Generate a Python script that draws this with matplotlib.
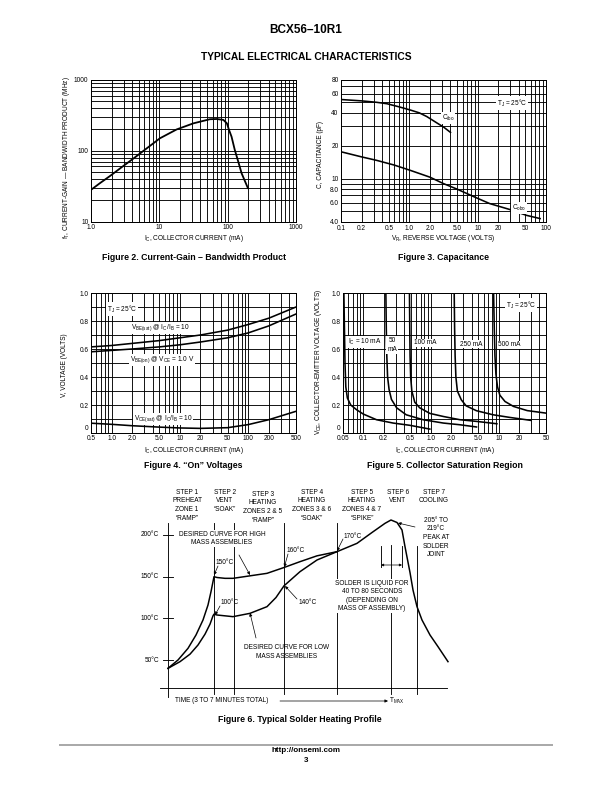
import matplotlib
matplotlib.use('Agg')
import matplotlib.pyplot as plt
from matplotlib import font_manager
from matplotlib.ticker import FixedLocator, FixedFormatter, NullFormatter
from matplotlib.lines import Line2D

# ---------------- data ----------------
# Figure 2: fT vs IC
fig2_ic = [1.0, 1.35, 1.9, 2.81, 4.2, 6.53, 10.2, 17.9, 31.5, 55, 69, 86.5, 97.4, 104.7, 114, 127, 143, 160, 180, 200]
fig2_ft = [28, 34.8, 44, 58.5, 78, 108, 150, 200, 244, 279, 281, 273, 244, 197, 158, 103, 70, 48, 36.7, 28.9]

# Figure 3: capacitance vs VR
cibo_v = [0.1, 0.2, 0.33, 0.47, 0.7, 1.03, 1.4, 1.8, 2.5, 3.2, 4.0]
cibo_c = [53, 51.5, 50, 48.5, 45.5, 42.5, 40, 37, 32.5, 29.5, 26.5]
cobo_v = [0.1, 0.2, 0.33, 0.6, 1.03, 2.0, 3.15, 5.0, 9.7, 15, 30, 52, 82]
cobo_c = [17.6, 15.8, 14.7, 13.3, 11.9, 10.3, 9.0, 8.0, 6.64, 5.9, 5.19, 4.6, 4.3]

# Figure 4: "On" voltages
f4_ic = [0.5, 1, 2, 5, 10, 20, 50, 100, 200, 500]
vbe_sat = [0.615, 0.625, 0.64, 0.66, 0.68, 0.70, 0.735, 0.775, 0.82, 0.90]
vbe_on = [0.58, 0.59, 0.60, 0.615, 0.63, 0.65, 0.68, 0.715, 0.765, 0.85]
vce_sat = [0.07, 0.062, 0.052, 0.042, 0.036, 0.033, 0.038, 0.06, 0.095, 0.155]

# Figure 5: collector saturation region (IB in mA, VCE in V)
sat_curves = {
    '10 mA': ([0.0515, 0.0525, 0.0535, 0.055, 0.058, 0.065, 0.08, 0.10, 0.156, 0.275, 0.485, 0.96],
              [1.0, 0.75, 0.5, 0.33, 0.25, 0.2, 0.165, 0.135, 0.095, 0.071, 0.055, 0.028]),
    '50 mA': ([0.215, 0.218, 0.222, 0.228, 0.24, 0.26, 0.31, 0.43, 0.76, 1.52, 2.66, 4.7],
              [1.0, 0.75, 0.55, 0.40, 0.31, 0.24, 0.18, 0.13, 0.095, 0.071, 0.059, 0.043]),
    '100 mA': ([0.48, 0.485, 0.49, 0.50, 0.52, 0.575, 0.68, 0.96, 1.52, 2.66, 4.7, 9.4],
               [1.0, 0.75, 0.55, 0.40, 0.30, 0.22, 0.18, 0.14, 0.118, 0.095, 0.083, 0.066]),
    '250 mA': ([2.2, 2.23, 2.27, 2.33, 2.45, 2.8, 3.3, 4.7, 8.3, 14.7, 30],
               [1.0, 0.75, 0.55, 0.40, 0.30, 0.237, 0.194, 0.159, 0.13, 0.111, 0.09]),
    '500 mA': ([8.4, 8.6, 8.8, 9.1, 9.6, 10.4, 12.4, 16.5, 26.4, 50],
               [1.0, 0.75, 0.55, 0.42, 0.33, 0.27, 0.225, 0.19, 0.16, 0.142]),
}

# Figure 6: solder heating profile (time in arbitrary units, temperature in degC)
high_t = [0, 10, 20, 28, 35, 40, 43, 45, 46, 49, 57, 65, 82, 99, 116, 132, 149, 169, 189, 204, 217, 223, 229, 234, 237, 242, 245, 249, 254, 262, 270, 280]
high_T = [40, 50, 64, 80, 98, 116, 132, 144, 150, 149, 148, 148, 151, 154, 161, 168, 175, 180, 190, 203, 214, 218, 215, 206, 186, 155, 134, 114, 98, 80, 66, 48]
low_t = [0, 12, 22, 30, 37, 42, 45, 46, 49, 57, 65, 82, 99, 108, 116, 132, 149, 169]
low_T = [40, 48, 57, 68, 81, 93, 103, 105, 104, 103, 102, 106, 114, 125, 139, 156, 170, 180]
step_bounds = [46, 66, 116, 169, 223, 249]
step_tops = [214.6, 214.6, 214.6, 214.6, 188, 187]
liquid_window = [213, 234]
temp_ticks = [50, 100, 150, 200]

# ---------------- fonts ----------------
names = {f.name for f in font_manager.fontManager.ttflist}
NARROW = 'Liberation Sans Narrow' if 'Liberation Sans Narrow' in names else 'Liberation Sans'
BOLD = 'Liberation Sans'
plt.rcParams['font.family'] = [NARROW, 'DejaVu Sans']
plt.rcParams['mathtext.fontset'] = 'custom'
plt.rcParams['mathtext.rm'] = NARROW
plt.rcParams['mathtext.it'] = NARROW + ':italic'
plt.rcParams['mathtext.bf'] = NARROW + ':bold'

W, H = 612, 792
fig = plt.figure(figsize=(W / 72, H / 72), dpi=72)


def rect(l, t, r, b):
    return [l / W, 1 - b / H, (r - l) / W, (b - t) / H]


def ftext(x, y, s, **kw):
    kw.setdefault('ha', 'center')
    kw.setdefault('va', 'center')
    kw.setdefault('fontsize', 6.5)
    return fig.text(x / W, 1 - y / H, s, **kw)


WBOX = dict(facecolor='white', edgecolor='none', pad=1.0)
FS = 6.5


def setup(ax, xmaj, xlab, xmin, ymaj, ylab, ymin):
    ax.xaxis.set_major_locator(FixedLocator(xmaj))
    ax.xaxis.set_major_formatter(FixedFormatter(xlab))
    ax.xaxis.set_minor_locator(FixedLocator(xmin))
    ax.xaxis.set_minor_formatter(NullFormatter())
    ax.yaxis.set_major_locator(FixedLocator(ymaj))
    ax.yaxis.set_major_formatter(FixedFormatter(ylab))
    ax.yaxis.set_minor_locator(FixedLocator(ymin))
    ax.yaxis.set_minor_formatter(NullFormatter())
    ax.grid(which='both', color='black', lw=0.9)
    ax.tick_params(which='both', length=0, labelsize=FS, pad=2.5)
    for s in ax.spines.values():
        s.set_linewidth(1.0)


# ---------------- page header / footer ----------------
ftext(306, 30, 'BCX56–10R1', fontsize=11.8, fontweight='bold', family=BOLD)
ftext(306, 57, 'TYPICAL ELECTRICAL CHARACTERISTICS', fontsize=10.3, fontweight='bold', family=BOLD)
fig.add_artist(Line2D([60 / W, 552 / W], [1 - 745 / H, 1 - 745 / H], color='#aaaaaa', lw=2))
ftext(306, 751, 'http://onsemi.com', fontsize=8, fontweight='bold', family=BOLD)
ftext(306, 760.5, '3', fontsize=8, fontweight='bold', family=BOLD)

# ---------------- Figure 2 ----------------
ax2 = fig.add_axes(rect(91, 80, 296, 221.5))
ax2.set_xscale('log'); ax2.set_yscale('log')
ax2.set_xlim(1, 1000); ax2.set_ylim(10, 1000)
setup(ax2, [1, 10, 100, 1000], ['1.0', '10', '100', '1000'],
      [m * d for d in (1, 10, 100) for m in range(2, 10)],
      [10, 100, 1000], ['10', '100', '1000'],
      [m * d for d in (10, 100) for m in range(2, 10)])
ax2.plot(fig2_ic, fig2_ft, color='black', lw=1.8, solid_capstyle='butt')
ftext(67, 158, r'f$_{\rm T}$, CURRENT-GAIN — BANDWIDTH PRODUCT (MHz)', rotation=90)
ftext(193.5, 239, r'I$_{\rm C}$, COLLECTOR CURRENT (mA)')
ftext(193.5, 257, 'Figure 2. Current-Gain – Bandwidth Product', fontsize=8.8, fontweight='bold', family=BOLD)

# ---------------- Figure 3 ----------------
ax3 = fig.add_axes(rect(341, 80, 546, 222))
ax3.set_xscale('log'); ax3.set_yscale('log')
ax3.set_xlim(0.1, 100); ax3.set_ylim(4, 80)
setup(ax3, [0.1, 0.2, 0.5, 1, 2, 5, 10, 20, 50, 100],
      ['0.1', '0.2', '0.5', '1.0', '2.0', '5.0', '10', '20', '50', '100'],
      [0.3, 0.4, 0.6, 0.7, 0.8, 0.9, 3, 4, 6, 7, 8, 9, 30, 40, 60, 70, 80, 90],
      [4, 6, 8, 10, 20, 40, 60, 80], ['4.0', '6.0', '8.0', '10', '20', '40', '60', '80'],
      [5, 7, 9, 30, 50, 70])
ax3.plot(cibo_v, cibo_c, color='black', lw=1.6)
ax3.plot(cobo_v, cobo_c, color='black', lw=1.6)
ftext(512, 103, r'T$_{\rm J}$ = 25°C', bbox=WBOX)
ftext(448, 118, r'C$_{\rm ibo}$', bbox=WBOX)
ftext(519, 208, r'C$_{\rm obo}$', bbox=WBOX)
ftext(321, 155, 'C, CAPACITANCE (pF)', rotation=90)
ftext(443.5, 239, r'V$_{\rm R}$, REVERSE VOLTAGE (VOLTS)')
ftext(443.5, 257, 'Figure 3. Capacitance', fontsize=8.8, fontweight='bold', family=BOLD)

# ---------------- Figure 4 ----------------
ax4 = fig.add_axes(rect(91, 293, 296, 433))
ax4.set_xscale('log')
ax4.set_xlim(0.5, 500); ax4.set_ylim(0, 1.0)
setup(ax4, [0.5, 1, 2, 5, 10, 20, 50, 100, 200, 500],
      ['0.5', '1.0', '2.0', '5.0', '10', '20', '50', '100', '200', '500'],
      [0.6, 0.7, 0.8, 0.9, 3, 4, 6, 7, 8, 9, 30, 40, 60, 70, 80, 90, 300, 400],
      [0.2, 0.4, 0.6, 0.8, 1.0], ['0.2', '0.4', '0.6', '0.8', '1.0'],
      [0.1, 0.3, 0.5, 0.7, 0.9])
for v in (vbe_sat, vbe_on, vce_sat):
    ax4.plot(f4_ic, v, color='black', lw=1.6)
ftext(88, 428.5, '0', ha='right')
ftext(122, 309, r'T$_{\rm J}$ = 25°C', bbox=WBOX)
ftext(160, 328, r'V$_{\rm BE(sat)}$ @ I$_{\rm C}$/I$_{\rm B}$ = 10', bbox=WBOX)
ftext(162, 360, r'V$_{\rm BE(on)}$ @ V$_{\rm CE}$ = 1.0 V', bbox=WBOX)
ftext(163, 419, r'V$_{\rm CE(sat)}$ @ I$_{\rm C}$/I$_{\rm B}$ = 10', bbox=WBOX)
ftext(65, 365, 'V, VOLTAGE (VOLTS)', rotation=90)
ftext(193.5, 451, r'I$_{\rm C}$, COLLECTOR CURRENT (mA)')
ftext(193.5, 465, 'Figure 4. “On” Voltages', fontsize=8.8, fontweight='bold', family=BOLD)

# ---------------- Figure 5 ----------------
ax5 = fig.add_axes(rect(343, 293, 546, 433))
ax5.set_xscale('log')
ax5.set_xlim(0.05, 50); ax5.set_ylim(0, 1.0)
setup(ax5, [0.05, 0.1, 0.2, 0.5, 1, 2, 5, 10, 20, 50],
      ['0.05', '0.1', '0.2', '0.5', '1.0', '2.0', '5.0', '10', '20', '50'],
      [0.06, 0.07, 0.08, 0.09, 0.3, 0.4, 0.6, 0.7, 0.8, 0.9, 3, 4, 6, 7, 8, 9, 30, 40],
      [0.2, 0.4, 0.6, 0.8, 1.0], ['0.2', '0.4', '0.6', '0.8', '1.0'],
      [0.1, 0.3, 0.5, 0.7, 0.9])
for ib, vce in sat_curves.values():
    ax5.plot(ib, vce, color='black', lw=1.6)
ftext(340, 428.5, '0', ha='right')
ftext(365, 342, r'I$_{\rm C}$ = 10 mA', bbox=WBOX)
ftext(392, 345, '50\nmA', bbox=WBOX, linespacing=1.3)
ftext(425, 343, '100 mA', bbox=WBOX)
ftext(471, 344, '250 mA', bbox=WBOX)
ftext(509, 345, '500 mA', bbox=WBOX)
ftext(521, 305, r'T$_{\rm J}$ = 25°C', bbox=WBOX)
ftext(318, 362, r'V$_{\rm CE}$, COLLECTOR-EMITTER VOLTAGE (VOLTS)', rotation=90)
ftext(444.5, 451, r'I$_{\rm C}$, COLLECTOR CURRENT (mA)')
ftext(444.5, 465, 'Figure 5. Collector Saturation Region', fontsize=8.8, fontweight='bold', family=BOLD)

# ---------------- Figure 6 ----------------
def Tp(y):
    return 50 + (660 - y) * 1.2

ax6 = fig.add_axes(rect(150, 480, 450, 712))
ax6.set_axis_off()
ax6.set_xlim(-18, 282); ax6.set_ylim(Tp(712), Tp(480))
LW = 0.9
ax6.plot([-8, 279], [16, 16], color='k', lw=LW)
ax6.plot([0, 0], [Tp(523), Tp(697)], color='k', lw=LW)
for t in temp_ticks:
    ax6.plot([-5, 5], [t, t], color='k', lw=LW)
    ftext(159, 660 - (t - 50) / 1.2, f'{t}°C', ha='right')
for x, top in zip(step_bounds, step_tops):
    ax6.plot([x, x], [top, Tp(694)], color='k', lw=LW, zorder=1)
for x in liquid_window:
    ax6.plot([x, x], [Tp(567), Tp(546)], color='k', lw=LW)
ax6.annotate('', xy=(liquid_window[0], Tp(565)), xytext=(liquid_window[1], Tp(565)),
             arrowprops=dict(arrowstyle='<|-|>', lw=0.7, color='k', mutation_scale=5, shrinkA=0, shrinkB=0))
ax6.plot(high_t, high_T, color='k', lw=1.5, zorder=3)
ax6.plot(low_t, low_T, color='k', lw=1.5, zorder=3)

AP = dict(arrowstyle='-|>', lw=0.7, color='k', mutation_scale=6, shrinkA=0, shrinkB=0)
callouts = [((50, 162.8), (46, 152)), ((52, 114.8), (47, 104)), ((120, 177.2), (116.3, 161.6)),
            ((175, 195.2), (169, 180.8)), ((129, 123.2), (117, 138.8)), ((71, 176), (82, 152)),
            ((88, 76.4), (82, 106.4)), ((247, 209.6), (230, 214.4))]
for tail, head in callouts:
    ax6.annotate('', xy=head, xytext=tail, arrowprops=AP)
ax6.annotate('', xy=(220, 0.8), xytext=(112, 0.8), arrowprops=AP)

LS = 1.3
steps = [(187, 'STEP 1\nPREHEAT\nZONE 1\n“RAMP”'), (225, 'STEP 2\nVENT\n“SOAK”'),
         (263, 'STEP 3\nHEATING\nZONES 2 & 5\n“RAMP”'), (312, 'STEP 4\nHEATING\nZONES 3 & 6\n“SOAK”'),
         (362, 'STEP 5\nHEATING\nZONES 4 & 7\n“SPIKE”'), (398, 'STEP 6\nVENT'), (434, 'STEP 7\nCOOLING')]
for x, s in steps:
    ftext(x, 489 if 'STEP 3' not in s else 491, s, va='top', linespacing=LS)
ftext(222, 538.5, 'DESIRED CURVE FOR HIGH\nMASS ASSEMBLIES', bbox=WBOX, linespacing=LS)
ftext(287, 652, 'DESIRED CURVE FOR LOW\nMASS ASSEMBLIES', linespacing=LS)
ftext(372, 596, 'SOLDER IS LIQUID FOR\n40 TO 80 SECONDS\n(DEPENDING ON\nMASS OF ASSEMBLY)', bbox=WBOX, linespacing=LS)
ftext(436, 537.5, '205° TO\n219°C\nPEAK AT\nSOLDER\nJOINT', linespacing=LS)
ftext(224.5, 562, '150°C')
ftext(229.5, 602, '100°C')
ftext(295.5, 551, '160°C')
ftext(353, 536, '170°C')
ftext(307.5, 602, '140°C')
ftext(175, 701, 'TIME (3 TO 7 MINUTES TOTAL)', ha='left')
ftext(389, 701, r'T$_{\rm MAX}$', ha='left')
ftext(300, 719, 'Figure 6. Typical Solder Heating Profile', fontsize=8.8, fontweight='bold', family=BOLD)

fig.savefig('out.png', dpi=72)
